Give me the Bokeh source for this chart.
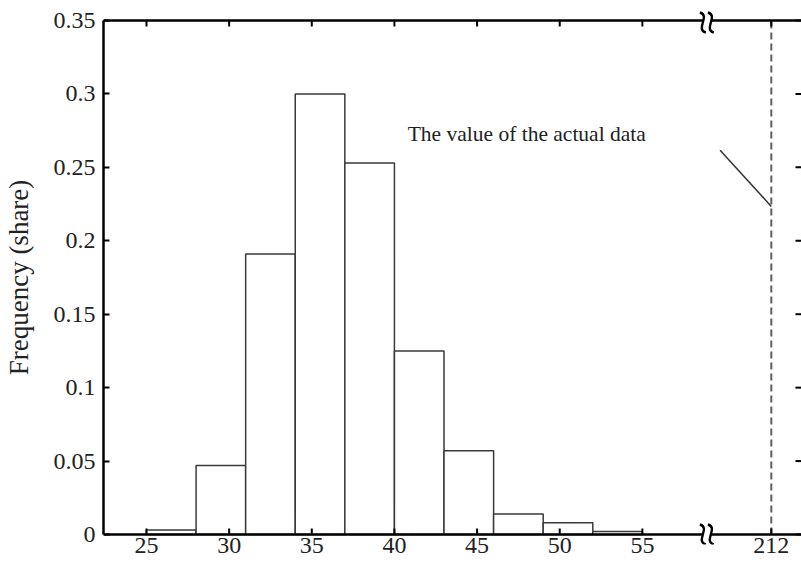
from bokeh.plotting import figure
from bokeh.models import Range1d, FixedTicker
from bokeh.models import Label
from bokeh.embed import file_html
from bokeh.resources import INLINE

# ---- data ----
bin_left = [25, 28, 31, 34, 37, 40, 43, 46, 49, 52]
bin_width = 3
freq = [0.003, 0.047, 0.191, 0.300, 0.253, 0.125, 0.057, 0.014, 0.008, 0.002]
x_tick_values = [25, 30, 35, 40, 45, 50, 55]
actual_value = 212          # value of the actual data (drawn after the axis break)
actual_pos = 62.8           # position on the broken axis where 212 is drawn
break_pos = 58.9            # axis break position
y_tick_values = [0, 0.05, 0.1, 0.15, 0.2, 0.25, 0.3, 0.35]
y_tick_labels = ["0", "0.05", "0.1", "0.15", "0.2", "0.25", "0.3", "0.35"]
annotation_text = "The value of the actual data"

FONT = "Liberation Serif"
TICK_SIZE = "24px"

# ---- geometry of the frame (pixels <-> data) ----
FRAME_W, FRAME_H = 698, 534
X0 = 22.4
PX_PER_X = 16.53
PAD_PX = 10                      # frame padding above/below the drawn axes
Y_MIN, Y_MAX = y_tick_values[0], y_tick_values[-1]
PX_PER_Y = (FRAME_H - 2 * PAD_PX) / (Y_MAX - Y_MIN)
X1 = X0 + FRAME_W / PX_PER_X

def dx(px):
    return px / PX_PER_X

def dy(px):
    return px / PX_PER_Y

bin_right = [b + bin_width for b in bin_left]

p = figure(frame_width=FRAME_W, frame_height=FRAME_H,
           x_range=Range1d(X0, X1),
           y_range=Range1d(Y_MIN - dy(PAD_PX), Y_MAX + dy(PAD_PX)),
           output_backend="svg", toolbar_location=None,
           min_border_left=103, min_border_right=0, min_border_top=10, min_border_bottom=22)
p.outline_line_color = None
p.xgrid.visible = False
p.ygrid.visible = False
p.background_fill_color = "white"
p.border_fill_color = "white"

# histogram bars
p.quad(left=bin_left, right=bin_right, bottom=Y_MIN, top=freq,
       fill_color="white", line_color="#3a3a3a", line_width=1.5)

# dashed line at the actual value
p.line(x=[actual_pos, actual_pos], y=[Y_MIN, Y_MAX],
       line_color="#5e5e5e", line_width=2, line_dash="7 4")

# leader line and annotation
p.segment(x0=[59.7], y0=[0.2616], x1=[actual_pos], y1=[0.2234],
          line_color="#333333", line_width=1.5)
p.add_layout(Label(x=40.8, y=0.273, text=annotation_text, text_font=FONT,
                   text_font_size="21.5px", text_color="#222222",
                   text_align="left", text_baseline="middle"))

# ---- broken bottom / top axis lines ----
gap_l = break_pos - dx(4)
gap_r = break_pos + dx(4)
for yl in (Y_MIN, Y_MAX):
    p.segment(x0=[X0, gap_r], y0=[yl, yl], x1=[gap_l, X1], y1=[yl, yl],
              line_color="black", line_width=2.5)

x_ticks = x_tick_values + [actual_pos]
TICK = 6
# bottom and top ticks (inward)
p.segment(x0=x_ticks, y0=[Y_MIN] * len(x_ticks), x1=x_ticks, y1=[Y_MIN + dy(TICK)] * len(x_ticks),
          line_color="black", line_width=2)
p.segment(x0=x_ticks, y0=[Y_MAX] * len(x_ticks), x1=x_ticks, y1=[Y_MAX - dy(TICK)] * len(x_ticks),
          line_color="black", line_width=2)
# right-side ticks (inward, at the right edge)
p.segment(x0=[X1] * len(y_tick_values), y0=y_tick_values,
          x1=[X1 - dx(TICK)] * len(y_tick_values), y1=y_tick_values,
          line_color="black", line_width=2)

# axis break marks (two wavy strokes on each axis)
for yl, yoff in ((Y_MIN, 0), (Y_MAX, -2)):
    for off in (-4, 4):
        cx = break_pos + dx(off)
        cy = yl + dy(yoff)
        p.bezier(x0=[cx - dx(3)], y0=[cy + dy(10)],
                 x1=[cx + dx(3)], y1=[cy - dy(10)],
                 cx0=[cx + dx(8)], cy0=[cy + dy(7)],
                 cx1=[cx - dx(8)], cy1=[cy - dy(7)],
                 line_color="black", line_width=2.4)

# ---- Bokeh axes: left axis (bounded), bottom axis only for labels ----
x_overrides = {v: str(v) for v in x_tick_values}
x_overrides[actual_pos] = str(actual_value)
y_overrides = {v: s for v, s in zip(y_tick_values, y_tick_labels)}

xa = p.xaxis[0]
xa.ticker = FixedTicker(ticks=x_ticks)
xa.major_label_overrides = x_overrides
xa.axis_line_color = None
xa.major_tick_line_color = None
xa.minor_tick_line_color = None
xa.major_tick_in = 0
xa.major_tick_out = 0
xa.major_label_standoff = 3 - PAD_PX
xa.major_label_text_font = FONT
xa.major_label_text_font_size = TICK_SIZE
xa.major_label_text_color = "#222222"

ya = p.yaxis[0]
ya.ticker = FixedTicker(ticks=y_tick_values)
ya.bounds = (Y_MIN, Y_MAX)
ya.major_label_overrides = y_overrides
ya.axis_line_color = "black"
ya.axis_line_width = 2.5
ya.major_tick_line_color = "black"
ya.major_tick_line_width = 2
ya.major_tick_in = TICK
ya.major_tick_out = 0
ya.minor_tick_line_color = None
ya.major_label_standoff = 8
ya.major_label_text_font = FONT
ya.major_label_text_font_size = TICK_SIZE
ya.major_label_text_color = "#222222"
ya.axis_label = "Frequency (share)"
ya.axis_label_text_font = FONT
ya.axis_label_text_font_size = "27px"
ya.axis_label_text_font_style = "normal"
ya.axis_label_text_color = "#222222"
ya.axis_label_standoff = 17

open("out.html", "w").write(file_html(p, INLINE))
